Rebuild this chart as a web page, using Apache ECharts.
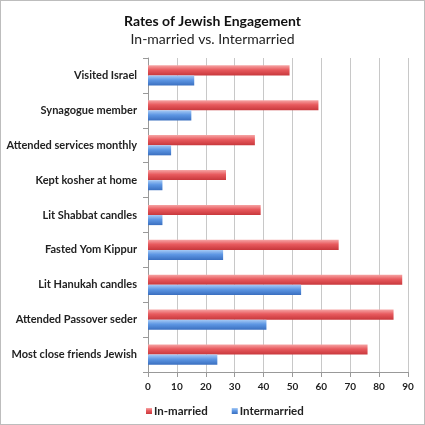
<!DOCTYPE html>
<html><head><meta charset="utf-8">
<script src="https://cdn.jsdelivr.net/npm/echarts@6/dist/echarts.min.js"></script>
<style>html,body{margin:0;padding:0;background:#fff}#c{width:423px;height:423px;border:1px solid #bdbdbd}</style>
</head><body><div id="c"></div>
<script>
const categories = ["Visited Israel","Synagogue member","Attended services monthly","Kept kosher at home","Lit Shabbat candles","Fasted Yom Kippur","Lit Hanukah candles","Attended Passover seder","Most close friends Jewish"];
const inMarried = [49,59,37,27,39,66,88,85,76];
const intermarried = [16,15,8,5,5,26,53,41,24];
const xTicks = [0,10,20,30,40,50,60,70,80,90];
const font = "Lato, 'Open Sans', sans-serif";
const chart = echarts.init(document.getElementById('c'));
function grad(a,b,c){return new echarts.graphic.LinearGradient(0,0,0,1,[{offset:0,color:a},{offset:0.45,color:b},{offset:1,color:c}]);}
chart.setOption({
  animation:false,
  title:{text:'Rates of Jewish Engagement',subtext:'In-married vs. Intermarried',left:'center',top:8,itemGap:4,
    textStyle:{fontFamily:font,fontSize:14,fontWeight:'bold',color:'#111'},
    subtextStyle:{fontFamily:font,fontSize:14,color:'#222'}},
  legend:{left:140,top:399,itemWidth:6,itemHeight:6,itemGap:24,icon:'rect',
    textStyle:{fontFamily:font,fontSize:11.5,fontWeight:'bold',color:'#222',padding:[0,0,0,-3]},
    data:['In-married','Intermarried']},
  grid:{left:147,right:16,top:57,bottom:52,containLabel:false},
  xAxis:{type:'value',min:0,max:90,interval:10,
    axisLine:{show:true,lineStyle:{color:'#999'}},
    axisTick:{show:true,length:5,lineStyle:{color:'#999'}},
    axisLabel:{fontFamily:font,fontSize:10,fontWeight:'bold',color:'#222',margin:10,
      formatter:v=>xTicks.includes(v)?String(v):''},
    splitLine:{show:true,lineStyle:{color:'#c8c8c8',width:1}}},
  yAxis:{type:'category',data:categories,inverse:true,
    axisLine:{show:true,lineStyle:{color:'#999'}},
    axisTick:{show:true,length:5,lineStyle:{color:'#999'}},
    axisLabel:{fontFamily:font,fontSize:11,fontWeight:'bold',color:'#222',margin:11}},
  series:[
    {name:'In-married',type:'bar',data:inMarried,barGap:'0%',barCategoryGap:'42%',
      itemStyle:{color:grad('#f6a5a5','#e85a5e','#c8383c')}},
    {name:'Intermarried',type:'bar',data:intermarried,barGap:'0%',barCategoryGap:'42%',
      itemStyle:{color:grad('#a8cbf5','#5e97e4','#3a6fc0')}}
  ]
});
</script></body></html>
